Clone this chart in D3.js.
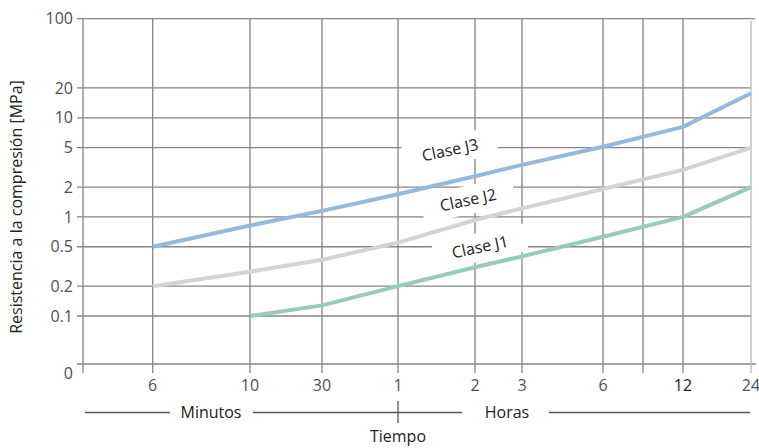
<!DOCTYPE html>
<html>
<head>
<meta charset="utf-8">
<script src="https://cdn.jsdelivr.net/npm/d3@7"></script>
<style>
  html, body { margin: 0; padding: 0; background: #fff; }
  svg { display: block; font-family: "Open Sans", "DejaVu Sans", sans-serif; }
</style>
</head>
<body>
<svg id="chart" width="759" height="448"></svg>
<script>
// time stops in minutes, with their axis labels
const timeMinutes = [6, 10, 30, 60, 120, 180, 360, 720, 1440];
const timeLabels = ["6", "10", "30", "1", "2", "3", "6", "12", "24"];
const extraGridMinutes = [540];

const yTicks = [0.1, 0.2, 0.5, 1, 2, 5, 10, 20, 100];
const yTickLabels = ["0.1", "0.2", "0.5", "1", "2", "5", "10", "20", "100"];

const seriesNames = ["Clase J1", "Clase J2", "Clase J3"];
const j1Values = [null, 0.1, 0.128, 0.2, 0.31, 0.4, 0.63, 1.0, 2.0];
const j2Values = [0.2, 0.28, 0.37, 0.55, 0.93, 1.22, 1.91, 2.98, 5.0];
const j3Values = [0.5, 0.82, 1.15, 1.69, 2.57, 3.35, 5.1, 8.1, 17.7];

const colors = ["#96cbbf", "#d3d3d3", "#94b9de"];

const svg = d3.select("#chart");
const plotLeft = 83, plotRight = 751, plotTop = 18.7, plotBottom = 364;
const fs = 16;

// hand-spaced time axis (piecewise), log strength axis
const x = d3.scaleLinear()
  .domain([0].concat(timeMinutes))
  .range([plotLeft, 152.7, 250, 322, 398, 475, 522, 603, 683, plotRight]);
const y = d3.scaleLog().domain([0.1, 100]).range([316, plotTop]);

const gridColor = "#858585";
const grid = svg.append("g");

// horizontal grid
grid.selectAll("line.h")
  .data(yTicks)
  .join("line")
  .attr("x1", plotLeft - 6).attr("x2", d => d === 100 ? plotRight + 4 : plotRight)
  .attr("y1", d => y(d)).attr("y2", d => y(d))
  .attr("stroke", gridColor).attr("stroke-width", 1.3);

// baseline (zero)
grid.append("line")
  .attr("x1", plotLeft - 6).attr("x2", plotRight + 5)
  .attr("y1", plotBottom).attr("y2", plotBottom)
  .attr("stroke", gridColor).attr("stroke-width", 1.3);

// vertical grid
const vData = [0].concat(timeMinutes, extraGridMinutes);
grid.selectAll("line.v")
  .data(vData)
  .join("line")
  .attr("x1", d => x(d)).attr("x2", d => x(d))
  .attr("y1", d => d === 1440 ? plotTop + 2 : plotTop)
  .attr("y2", plotBottom + 9)
  .attr("stroke", d => d === 1440 ? "#b8b8b8" : gridColor)
  .attr("stroke-width", 1.3);

// y tick labels
svg.append("g").selectAll("text")
  .data(yTicks)
  .join("text")
  .attr("x", 73).attr("y", d => y(d))
  .attr("dy", "0.35em")
  .attr("text-anchor", "end")
  .attr("font-size", fs).attr("fill", "#505050")
  .text((d, i) => yTickLabels[i]);
svg.append("text")
  .attr("x", 73).attr("y", plotBottom + 9).attr("dy", "0.35em")
  .attr("text-anchor", "end").attr("font-size", fs).attr("fill", "#505050")
  .text("0");

// x tick labels
svg.append("g").selectAll("text")
  .data(timeMinutes)
  .join("text")
  .attr("x", d => x(d)).attr("y", 385).attr("dy", "0.35em")
  .attr("text-anchor", "middle")
  .attr("font-size", fs)
  .attr("fill", (d, i) => timeLabels[i] === "12" ? "#222" : "#505050")
  .text((d, i) => timeLabels[i]);

// lines
const line = d3.line()
  .defined(d => d.v != null)
  .x(d => x(d.t))
  .y(d => y(d.v));
const series = [j1Values, j2Values, j3Values];
svg.append("g").selectAll("path")
  .data(series)
  .join("path")
  .attr("d", vals => line(vals.map((v, i) => ({ t: timeMinutes[i], v }))))
  .attr("fill", "none")
  .attr("stroke", (d, i) => colors[i])
  .attr("stroke-width", 4)
  .attr("stroke-linejoin", "round");

// series labels with white boxes
const labelPos = [[480, 247], [468, 200], [450, 150]];
const labels = svg.append("g").selectAll("g")
  .data(seriesNames)
  .join("g")
  .attr("transform", (d, i) => `translate(${labelPos[i][0]},${labelPos[i][1]}) rotate(-12)`);
labels.append("rect")
  .attr("x", -47).attr("y", -14).attr("width", 94).attr("height", 28)
  .attr("fill", "#fff");
labels.append("text")
  .attr("text-anchor", "middle").attr("dy", "0.35em")
  .attr("font-size", fs).attr("fill", "#222")
  .text(d => d);

// y axis title
svg.append("text")
  .attr("transform", "translate(22,207) rotate(-90)")
  .attr("text-anchor", "middle")
  .attr("font-size", fs).attr("fill", "#222")
  .text("Resistencia a la compresión [MPa]");

// bottom time annotation
const ann = svg.append("g").attr("stroke", "#555").attr("stroke-width", 1.3);
ann.append("line").attr("x1", 85).attr("x2", 170).attr("y1", 412.5).attr("y2", 412.5);
ann.append("line").attr("x1", 253).attr("x2", 462).attr("y1", 412.5).attr("y2", 412.5);
ann.append("line").attr("x1", 549).attr("x2", 750).attr("y1", 412.5).attr("y2", 412.5);
ann.append("line").attr("x1", x(60)).attr("x2", x(60)).attr("y1", 401).attr("y2", 423);

svg.append("text").attr("x", 211).attr("y", 412.5).attr("dy", "0.35em")
  .attr("text-anchor", "middle").attr("font-size", fs).attr("fill", "#222").text("Minutos");
svg.append("text").attr("x", 507).attr("y", 412.5).attr("dy", "0.35em")
  .attr("text-anchor", "middle").attr("font-size", fs).attr("fill", "#222").text("Horas");
svg.append("text").attr("x", x(60)).attr("y", 436).attr("dy", "0.35em")
  .attr("text-anchor", "middle").attr("font-size", fs).attr("fill", "#222").text("Tiempo");
</script>
</body>
</html>
